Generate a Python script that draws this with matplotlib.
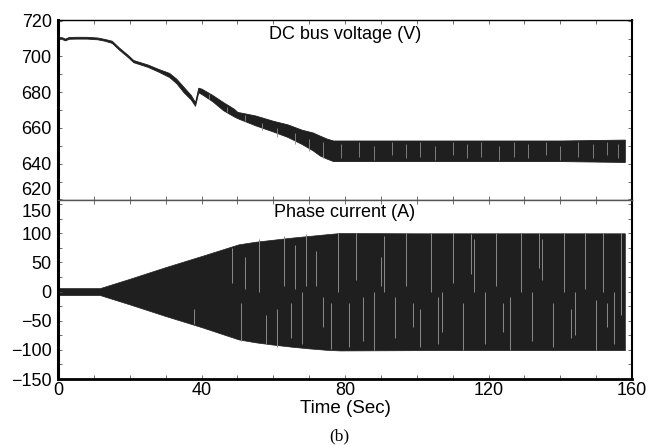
import matplotlib
matplotlib.use("Agg")
import matplotlib.pyplot as plt
from matplotlib.ticker import MultipleLocator

plt.rcParams['font.family'] = ['Liberation Sans', 'DejaVu Sans']

# ---- DC bus voltage envelope (V) ----
v_time  = [0, 1, 2, 3, 5, 8, 11, 13, 15, 17, 19.5, 21, 25, 28, 31, 33, 35, 37, 38.2, 39.1, 40, 43, 46, 49, 50, 55, 60, 64, 68, 71, 73, 75, 76.7, 80, 100, 120, 140, 158]
v_upper = [710.8, 710.8, 710.0, 710.9, 711.0, 711.0, 710.6, 709.8, 708.8, 705.0, 700.8, 698.0, 695.5, 693.0, 690.8, 687.5, 683.0, 678.5, 674.5, 682.5, 682.0, 678.5, 674.5, 670.8, 669.0, 667.0, 664.0, 662.0, 659.0, 657.5, 655.7, 654.0, 653.0, 653.0, 653.0, 653.0, 653.0, 653.5]
v_lower = [709.8, 709.8, 709.0, 709.9, 710.0, 710.0, 709.6, 708.8, 707.6, 703.8, 699.6, 696.8, 694.2, 691.5, 688.5, 685.0, 680.0, 676.0, 672.4, 680.0, 679.0, 675.0, 670.0, 666.5, 665.5, 661.5, 658.0, 655.0, 651.0, 647.5, 644.6, 642.8, 641.5, 641.5, 641.5, 641.5, 641.5, 641.0]

# light streaks inside the voltage band (time, bottom, top)
vstreak_t    = [42, 47, 52, 57, 61, 66, 70, 74, 79, 84, 88, 93, 97, 101, 105, 110, 114, 118, 123, 127, 131, 136, 140, 145, 149, 153, 156]
vstreak_low  = [676, 669, 664, 659, 655, 651, 647, 643, 643, 644, 642, 645, 643, 644, 642, 645, 643, 644, 642, 644, 643, 645, 642, 644, 643, 645, 643]
vstreak_high = [679, 672, 667, 663, 660, 657, 654, 652, 651, 652, 650, 652, 651, 652, 650, 652, 651, 652, 650, 652, 651, 652, 650, 652, 651, 652, 651]

# ---- Phase current envelope (A) ----
i_time  = [0, 5, 10, 11.7, 20, 30, 40, 50.3, 55, 60, 65, 70, 75, 78.6, 100, 120, 140, 158]
i_upper = [6, 6, 6, 6, 22, 42, 61, 81, 85.5, 89, 92.5, 95.5, 98.5, 100.5, 100, 100, 100, 100]
i_lower = [-6, -6, -6, -6, -22, -42, -61, -82, -87, -91, -94.5, -97.5, -100, -101, -100.5, -100.5, -100.5, -100.5]

# light streaks visible inside the current band (time, bottom, top)
streak_t    = [38, 48.5, 51, 52, 56, 58, 61, 63, 65, 66, 68, 69, 72, 74, 76, 78, 81, 83, 85, 88, 90, 91, 94, 97, 99, 101, 104, 106, 107, 110, 113, 115, 116, 119, 122, 124, 126, 129, 132, 134, 135, 138, 141, 143, 144, 147, 150, 152, 153, 155, 157]
streak_low  = [-55, 15, -85, 5, 0, -90, -95, 10, -80, 5, -90, 10, 10, -60, -98, 0, -95, 20, -85, -100, 10, 0, -80, 10, -60, -95, 0, -90, -70, 15, -100, 30, 0, -90, 10, -70, -100, 0, -85, 40, 20, -95, 0, -80, -75, 5, -100, 0, -60, -90, -40]
streak_high = [-30, 75, -20, 60, 90, -40, -30, 95, -20, 80, 0, 98, 70, -10, -20, 100, -20, 100, -10, 0, 60, 95, -10, 100, -20, -30, 100, -10, 0, 100, -20, 98, 90, 0, 100, -20, -10, 100, 0, 100, 90, -20, 100, -30, 0, 100, -15, 100, -20, 0, 100]

fig = plt.figure(figsize=(6.48, 4.45), dpi=100)
L, R = 58/648, 632/648
ax1 = fig.add_axes([L, 1-199.5/445, R-L, (199.5-20)/445])
ax2 = fig.add_axes([L, 1-379/445, R-L, (379-199.5)/445], sharex=ax1)

dark = '#1f1f1f'
ax1.fill_between(v_time, v_lower, v_upper, facecolor=dark, lw=0.6, edgecolor=dark)
ax1.vlines(vstreak_t, vstreak_low, vstreak_high, color='#8c8c8c', lw=0.6)
ax2.fill_between(i_time, i_lower, i_upper, facecolor=dark, lw=0.5, edgecolor=dark)
ax2.vlines(streak_t, streak_low, streak_high, color='#8a8a8a', lw=0.7)

ax1.set_xlim(0, 160)
ax1.set_ylim(620, 720.4)
ax2.set_ylim(-150, 158)

ax1.set_yticks([620, 640, 660, 680, 700, 720])
ax2.set_yticks([-150, -100, -50, 0, 50, 100, 150])
ax2.set_xticks([0, 40, 80, 120, 160])
ax1.xaxis.set_minor_locator(MultipleLocator(10))
ax1.yaxis.set_minor_locator(MultipleLocator(10))
ax2.yaxis.set_minor_locator(MultipleLocator(25))

for ax in (ax1, ax2):
    ax.tick_params(axis='both', which='both', direction='in', top=True, right=True,
                   length=3, width=0.6, color='#555555', labelsize=13)
    ax.tick_params(axis='y', pad=4.5)
    ax.spines['left'].set_linewidth(2.2)
    ax.spines['right'].set_linewidth(1.5)
    ax.spines['top'].set_linewidth(1.0)
    ax.spines['bottom'].set_linewidth(1.0)
    ax.spines['top'].set_color('#555555')
    ax.spines['bottom'].set_color('#555555')
ax1.tick_params(axis='x', labelbottom=False)
ax2.tick_params(axis='x', pad=2)
ax2.spines['bottom'].set_linewidth(2.0)
ax2.spines['bottom'].set_color('black')
ax1.spines['top'].set_color('black')

# the two labels at the panel joint sit apart from each other, as in the reference
ax1.get_yticklabels()[0].set_verticalalignment('bottom')
ax2.get_yticklabels()[-1].set_verticalalignment('top')

ax1.text(0.5, 0.92, 'DC bus voltage (V)', transform=ax1.transAxes, ha='center', va='center', fontsize=13)
ax2.text(0.5, 0.925, 'Phase current (A)', transform=ax2.transAxes, ha='center', va='center', fontsize=13)
ax2.set_xlabel('Time (Sec)', fontsize=13.5, labelpad=1)
fig.text(339/648, 1-436/445, '(b)', ha='center', va='center', fontsize=12.5, family='Liberation Serif')

fig.savefig('out.png', dpi=100)
